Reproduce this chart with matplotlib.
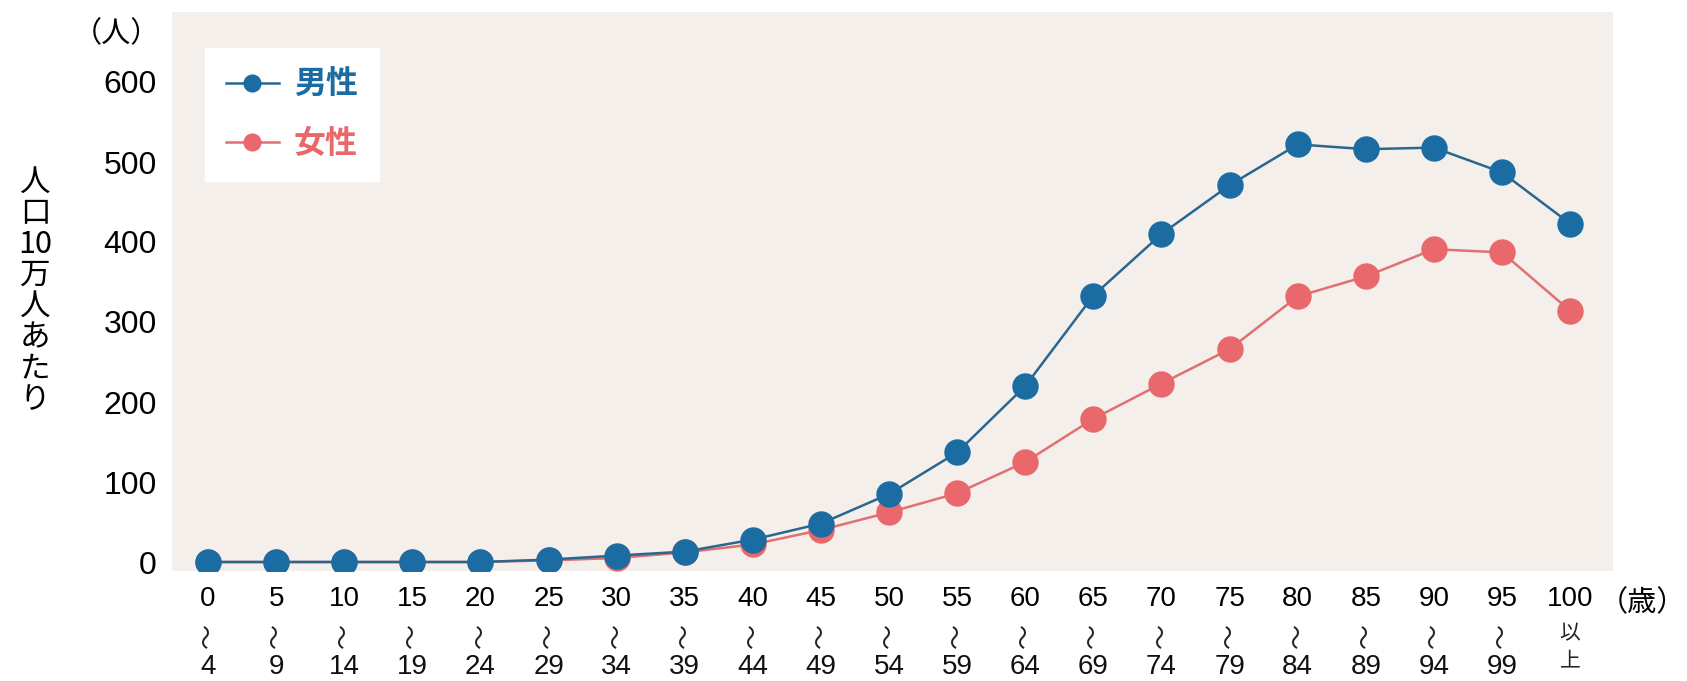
import matplotlib
matplotlib.use("Agg")
import matplotlib.pyplot as plt
import numpy as np

# ---- data ----
age_start = ["0", "5", "10", "15", "20", "25", "30", "35", "40", "45", "50",
             "55", "60", "65", "70", "75", "80", "85", "90", "95", "100"]
age_end = ["4", "9", "14", "19", "24", "29", "34", "39", "44", "49", "54",
           "59", "64", "69", "74", "79", "84", "89", "94", "99", "以上"]
male = [0, 0, 0, 0, 0, 3, 8, 13, 28, 48, 85, 137, 220, 333, 410, 471, 522, 516, 518, 487, 423]
female = [0, 0, 0, 0, 0, 2, 5, 12, 22, 40, 62, 86, 125, 179, 223, 266, 332, 357, 391, 387, 314]
series_labels = ["男性", "女性"]
yticks = [0, 100, 200, 300, 400, 500, 600]

BLUE = "#1b6ca2"
BLUE_LINE = "#2a6790"
RED = "#e8686b"
RED_LINE = "#df7073"
BG = "#f4efeb"

NUM = ["Liberation Sans", "Noto Sans CJK JP", "DejaVu Sans"]
CJK = ["Noto Sans CJK JP", "DejaVu Sans"]

W, H = 1687, 681
fig = plt.figure(figsize=(W / 100, H / 100), dpi=100)
L, R, T, B = 172, 1613, 12, 571
ax = fig.add_axes([L / W, (H - B) / H, (R - L) / W, (B - T) / H])
ax.set_facecolor(BG)
for s in ax.spines.values():
    s.set_visible(False)

x = np.arange(len(age_start))
ax.plot(x, female, color=RED_LINE, lw=1.8, marker="o", markersize=18,
        markerfacecolor=RED, markeredgecolor=RED, label=series_labels[1], zorder=3)
ax.plot(x, male, color=BLUE_LINE, lw=1.8, marker="o", markersize=18,
        markerfacecolor=BLUE, markeredgecolor=BLUE, label=series_labels[0], zorder=4)

ax.set_xlim(-0.53, 20.63)
ax.set_ylim(-11.25, 687.5)

ax.set_yticks(yticks)
ax.set_yticklabels([str(v) for v in yticks], fontsize=23, family=NUM)
ax.tick_params(axis="y", length=0, pad=11)

ax.set_xticks(x)
ax.set_xticklabels(age_start, fontsize=20, family=NUM)
ax.tick_params(axis="x", length=0, pad=11)

tr = ax.get_xaxis_transform()
y_mid = (B - 636) / (B - T)
y_bot = (B - 667) / (B - T)
for i, (s, e) in enumerate(zip(age_start, age_end)):
    if e == "以上":
        ax.text(x[i], (B - 633) / (B - T), e[0], transform=tr, ha="center", va="center",
                fontsize=15, family=CJK, color="#222222")
        ax.text(x[i], (B - 660) / (B - T), e[1], transform=tr, ha="center", va="center",
                fontsize=15, family=CJK, color="#222222")
    else:
        ax.text(x[i], y_mid, "〜", transform=tr, ha="center", va="center",
                rotation=90, fontsize=18, family=CJK, color="#222222")
        ax.text(x[i], y_bot, e, transform=tr, ha="center", va="center",
                fontsize=20, family=NUM, color="#111111")

fig.text(1686 / W, 1 - 603 / H, "（歳）", ha="right", va="center", fontsize=21, family=CJK)
fig.text(160 / W, 1 - 34 / H, "（人）", ha="right", va="center", fontsize=21, family=CJK)
fig.text(35 / W, 1 - 291 / H, "人\n口\n10\n万\n人\nあ\nた\nり", ha="center", va="center",
         multialignment="center", fontsize=22, family=CJK, linespacing=1.0)

handles, labels = ax.get_legend_handles_labels()
order = [1, 0]
leg = ax.legend([handles[i] for i in order], [labels[i] for i in order],
                loc="upper left", bbox_to_anchor=((205 - L) / (R - L), (B - 48) / (B - T)),
                frameon=True, fancybox=False, framealpha=1, edgecolor="white",
                facecolor="white", borderaxespad=0, borderpad=0.65,
                handlelength=1.66, handletextpad=0.47, labelspacing=0.85,
                markerscale=0.67,
                prop={"family": CJK, "size": 23, "weight": "bold"},
                labelcolor=[BLUE, RED])

fig.savefig("out.png", dpi=100, facecolor="white")
